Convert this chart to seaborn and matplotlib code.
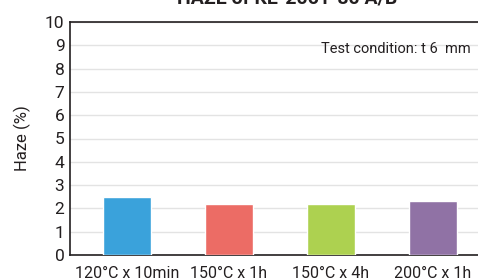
import numpy as np
import pandas as pd
import seaborn as sns
import matplotlib.pyplot as plt

# data
conditions = ["120°C x 10min", "150°C x 1h", "150°C x 4h", "200°C x 1h"]
haze = [2.5, 2.2, 2.2, 2.3]
colors = ["#3aa2db", "#ec6c65", "#add150", "#9072a5"]
yticks = list(range(0, 11))

df = pd.DataFrame({"condition": conditions, "haze": haze})

sns.set_style("white")
plt.rcParams['font.family'] = ['Roboto', 'DejaVu Sans']

fig = plt.figure(figsize=(4.78, 2.78), dpi=100)
ax = fig.add_axes([70 / 478, 23 / 278, 420 / 478, 233 / 278])

sns.barplot(data=df, x="condition", y="haze", hue="condition", palette=colors,
            width=0.47, legend=False, ax=ax, zorder=3, saturation=1)

ax.set_ylim(0, 10)
ax.set_xlim(-0.56, 3.56)
ax.set_yticks(yticks)
ax.yaxis.grid(True, color="#e3e3e3", linewidth=1, zorder=0)
ax.tick_params(axis="y", length=0, labelsize=12.5, colors="#231f20", pad=4)
ax.tick_params(axis="x", length=0, labelsize=11.5, colors="#231f20", pad=8)
ax.set_xlabel("")
ax.set_ylabel("Haze (%)", fontsize=12, color="#231f20", labelpad=10)
for s in ax.spines.values():
    s.set_color("#231f20")
    s.set_linewidth(1.2)
ax.spines["right"].set_visible(False)

ax.text(0.955, 0.885, "Test condition: t 6  mm", transform=ax.transAxes,
        ha="right", va="center", fontsize=10.5, color="#231f20")

fig.text(0.6, 1.006, "HAZE of KE-2061-80 A/B", ha="center", va="center",
         fontsize=14, fontweight="bold", color="#231f20")

fig.savefig("out.png", dpi=100)
